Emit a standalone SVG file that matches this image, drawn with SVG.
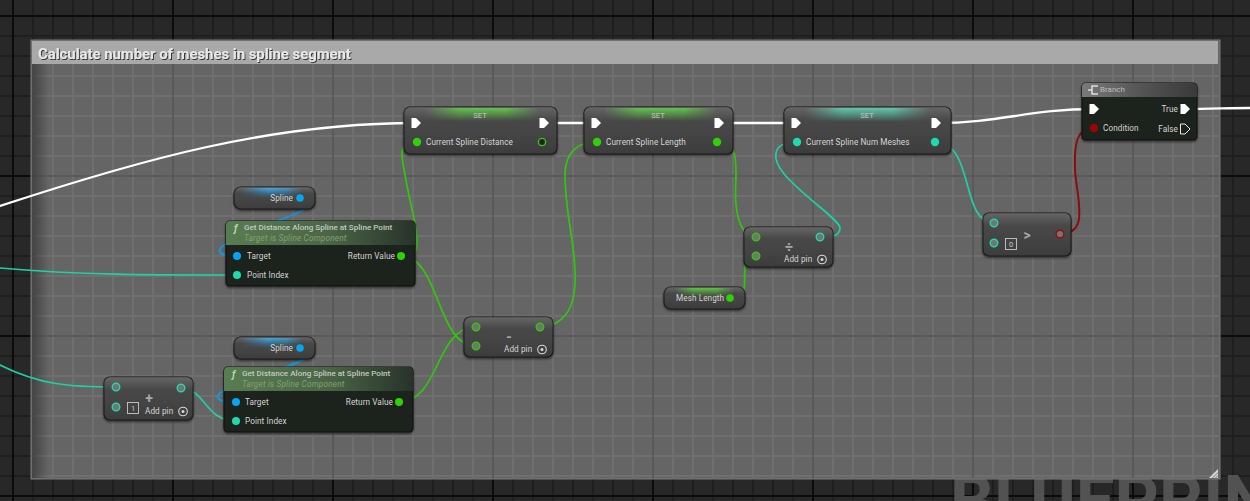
<svg xmlns="http://www.w3.org/2000/svg" width="1250" height="501" viewBox="0 0 1250 501">
<defs>
<style>
text{font-family:Roboto,"Liberation Sans",sans-serif;fill:#d8d8d8}
.lbl{font-size:8.2px;letter-spacing:.08px;fill:#d4d4d4}
.end{text-anchor:end}.mid{text-anchor:middle}
.sub{font-size:8.2px;font-style:italic;fill:#85a070;letter-spacing:.2px}
.ttl{font-size:8.1px;font-weight:500;fill:#c4c8c0;letter-spacing:0}
.set{font-size:7.5px;fill:#b8b8b8;text-anchor:middle;font-weight:500}
.op{font-size:14px;font-weight:700;fill:#a8a8a8;text-anchor:middle}
.w{fill:none;stroke-linecap:round}
.ex{stroke:#fff;stroke-width:2.3}
.gr{stroke:#2fc80c;stroke-width:1.7}
.te{stroke:#1fd0a4;stroke-width:1.7}
.bl{stroke:#0a9be8;stroke-width:1.7}
.rd{stroke:#8c0a0a;stroke-width:1.9}
.n{fill:#414141;stroke:#1c1c1c;stroke-width:1.2;filter:url(#sh)}
.f{fill:#1d211e;stroke:#101210;stroke-width:1.2;filter:url(#sh)}
.gloss{fill:url(#gl)}
.pg{fill:#2fd00a}.pt{fill:#1fd8ac}.pb{fill:#06a4f4}.pr{fill:#9c0505}
.hg{fill:#747474;stroke:#2fc80c;stroke-width:1.4}
.ht{fill:#747474;stroke:#1fd8ac;stroke-width:1.4}
.hr{fill:#747474;stroke:#a00a0a;stroke-width:1.4}
.xp{fill:#fff}
.xh{fill:none;stroke:#e8e8e8;stroke-width:1}
.box{fill:none;stroke:#c8c8c8;stroke-width:.9}
.num{font-size:7.5px;fill:#c8c8c8;text-anchor:middle}
.add{fill:none;stroke:#d8d8d8;stroke-width:1.1}
.dot{fill:#d8d8d8}
</style>
<pattern id="minorOut" width="20" height="20" x="12" y="15" patternUnits="userSpaceOnUse"><path d="M1 0V20M0 1H20" stroke="#1f1f1f" stroke-width="2" fill="none"/></pattern>
<pattern id="majorOut" width="160" height="160" x="11" y="14" patternUnits="userSpaceOnUse"><path d="M2 0V160M0 2H160" stroke="#0b0b0b" stroke-width="2" fill="none"/></pattern>
<pattern id="minorIn" width="20" height="20" x="12" y="15" patternUnits="userSpaceOnUse"><path d="M1 0V20M0 1H20" stroke="#6f6f6f" stroke-width="2" fill="none"/></pattern>
<pattern id="majorIn" width="160" height="160" x="11" y="14" patternUnits="userSpaceOnUse"><path d="M2 0V160M0 2H160" stroke="#545454" stroke-width="1.6" fill="none"/></pattern>
<linearGradient id="edge" x1="0" x2="1" y1="0" y2="0"><stop offset="0" stop-color="#333" stop-opacity=".7"/><stop offset=".014" stop-color="#333" stop-opacity="0"/></linearGradient>
<linearGradient id="gl" x1="0" x2="0" y1="0" y2="1"><stop offset="0" stop-color="#fff" stop-opacity=".2"/><stop offset=".3" stop-color="#fff" stop-opacity=".04"/><stop offset="1" stop-color="#000" stop-opacity=".06"/></linearGradient>
<linearGradient id="hgr"><stop offset="0" stop-color="#42d01e" stop-opacity="0"/><stop offset=".3" stop-color="#42d01e" stop-opacity=".8"/><stop offset=".7" stop-color="#42d01e" stop-opacity=".8"/><stop offset="1" stop-color="#42d01e" stop-opacity="0"/></linearGradient>
<linearGradient id="hte"><stop offset="0" stop-color="#3ed8b0" stop-opacity="0"/><stop offset=".3" stop-color="#3ed8b0" stop-opacity=".8"/><stop offset=".7" stop-color="#3ed8b0" stop-opacity=".8"/><stop offset="1" stop-color="#3ed8b0" stop-opacity="0"/></linearGradient>
<linearGradient id="hbl"><stop offset="0" stop-color="#1a9ee8" stop-opacity="0"/><stop offset=".45" stop-color="#1a9ee8" stop-opacity=".9"/><stop offset=".75" stop-color="#1a9ee8" stop-opacity=".7"/><stop offset="1" stop-color="#1a9ee8" stop-opacity="0"/></linearGradient>
<linearGradient id="vg" x1="0" x2="0" y1="0" y2="1"><stop offset="0" stop-color="#fff"/><stop offset="1" stop-color="#000"/></linearGradient>
<mask id="vf" maskUnits="objectBoundingBox" maskContentUnits="objectBoundingBox" x="0" y="0" width="1" height="1"><rect width="1" height="1" fill="url(#vg)"/></mask>
<linearGradient id="fh" x1="0" x2="1" y1="0" y2="0"><stop offset="0" stop-color="#587d52"/><stop offset=".55" stop-color="#4a6546"/><stop offset="1" stop-color="#28332a"/></linearGradient>
<linearGradient id="bh" x1="0" x2="1" y1="0" y2="0"><stop offset="0" stop-color="#7a7a7a"/><stop offset=".5" stop-color="#555"/><stop offset="1" stop-color="#3a3a3a"/></linearGradient>
<filter id="sh" x="-10%" y="-10%" width="120%" height="130%"><feDropShadow dx="0" dy="1.5" stdDeviation="1" flood-color="#000" flood-opacity=".55"/></filter>
<filter id="ts" x="-5%" y="-20%" width="110%" height="150%"><feDropShadow dx="1" dy="1" stdDeviation=".2" flood-color="#2a2a2a" flood-opacity=".9"/></filter>
<path id="ep" d="M-4.5 -5H0L5 0L0 5H-4.5Z"/>
</defs>
<g id="background">
<rect width="1250" height="501" fill="#282828"/>
<rect width="1250" height="501" fill="url(#minorOut)"/>
<rect width="1250" height="501" fill="url(#majorOut)"/>
<text x="950" y="524" font-size="69" font-weight="700" style="fill:#525252">BLUEPRINT</text>
</g>
<g id="comment">
<rect x="31" y="40" width="1189" height="439" fill="#656565" stroke="#7a7a7a" stroke-width="1"/>
<rect x="32" y="41" width="1187" height="437" fill="url(#minorIn)"/>
<rect x="32" y="41" width="1187" height="437" fill="url(#majorIn)"/>
<rect x="32" y="41" width="1187" height="437" fill="url(#edge)"/>
<rect x="32" y="41" width="1186" height="23" fill="#a9a9a9"/>
<text x="38" y="59" font-size="14.85" font-weight="700" style="fill:#e8e8e8;filter:url(#ts)">Calculate number of meshes in spline segment</text>
<path d="M1218 469V478H1209Z" fill="#d8d8d8"/>
<path d="M1212.500 478L1218 472.500M1215.500 478L1218 475.500" stroke="#555" stroke-width=".8"/>
</g>
<g id="connectors" class="w">
<path class="w ex" d="M0 206C140 160 270 123 416 123"/>
<path class="w ex" d="M544 123H596"/>
<path class="w ex" d="M719 123H796"/>
<path class="w ex" d="M936 123C1000 123 1030 109 1094 109"/>
<path class="w ex" d="M1185 109C1210 109 1230 108 1250 108"/>
<path class="w gr" d="M417 142C395 142 403 160 405 175C410 205 420 235 416 250C414 256 408 256 401 256"/>
<path class="w gr" d="M401 256C440 256 436 346 476 346"/>
<path class="w gr" d="M399 402C440 402 435 327 476 327"/>
<path class="w gr" d="M540 327C575 325 576 290 575 270C574 240 565 210 565 175C565 150 580 142 597 142"/>
<path class="w gr" d="M717 142C745 142 733 180 736 205C738 225 745 237 756 237"/>
<path class="w gr" d="M730 298C750 298 743 280 745 270C744 262 746 256 756 256"/>
<path class="w te" d="M797 142C770 142 772 160 785 175C805 198 840 220 840 228C840 237 830 237 820 237"/>
<path class="w te" d="M935 142C975 142 960 223 994 223"/>
<path class="w rd" d="M1060 234C1090 234 1077 200 1075 170C1074 140 1078 128 1094 128"/>
<path class="w bl" d="M300 198C325 198 312 208 280 220C250 232 215 245 220 252C222 256 230 256 237 256"/>
<path class="w bl" d="M300 348C325 348 312 358 278 370C248 382 213 391 218 398C220 402 228 402 236 402"/>
<path class="w te" d="M0 268C80 275 150 275 237 275"/>
<path class="w te" d="M0 365C40 385 70 387 116 387"/>
<path class="w te" d="M181 388C205 388 205 421 236 421"/>
</g>
<g id="set-distance">
<rect class="n" x="404" y="107" width="153" height="47" rx="6"/>
<rect x="425" y="108" width="115" height="13" fill="url(#hgr)" mask="url(#vf)"/>
<rect class="gloss" x="404" y="107" width="153" height="47" rx="6"/>
<text class="set" x="480" y="118">SET</text>
<use href="#ep" class="xp" x="416" y="123"/><use href="#ep" class="xp" x="544" y="123"/>
<circle class="pg" cx="417" cy="142" r="4.200"/>
<text class="lbl" x="426" y="145">Current Spline Distance</text>
<circle cx="542" cy="142" r="3.600" fill="#222" stroke="#2fc80c" stroke-width="1.400"/>
</g>
<g id="set-length">
<rect class="n" x="584" y="107" width="149" height="47" rx="6"/>
<rect x="603" y="108" width="115" height="13" fill="url(#hgr)" mask="url(#vf)"/>
<rect class="gloss" x="584" y="107" width="149" height="47" rx="6"/>
<text class="set" x="658" y="118">SET</text>
<use href="#ep" class="xp" x="596" y="123"/><use href="#ep" class="xp" x="719" y="123"/>
<circle class="pg" cx="597" cy="142" r="4.200"/>
<text class="lbl" x="606" y="145">Current Spline Length</text>
<circle class="pg" cx="717" cy="142" r="4.200"/>
</g>
<g id="set-num-meshes">
<rect class="n" x="784" y="107" width="167" height="47" rx="6"/>
<rect x="805" y="108" width="125" height="14" fill="url(#hte)" mask="url(#vf)"/>
<rect class="gloss" x="784" y="107" width="167" height="47" rx="6"/>
<text class="set" x="867" y="118">SET</text>
<use href="#ep" class="xp" x="796" y="123"/><use href="#ep" class="xp" x="936" y="123"/>
<circle class="pt" cx="797" cy="142" r="4.200"/>
<text class="lbl" x="806" y="145">Current Spline Num Meshes</text>
<circle class="pt" cx="935" cy="142" r="4.200"/>
</g>
<g id="branch">
<rect class="f" x="1082" y="83" width="115" height="57" rx="4"/>
<path d="M1086 83H1193Q1197 83 1197 87V97H1082V87Q1082 83 1086 83Z" fill="url(#bh)"/>
<path d="M1098 86H1092V94H1098M1092 90H1088" fill="none" stroke="#ddd" stroke-width="1.500"/>
<text x="1100" y="92" font-size="8" style="fill:#bdbdbd">Branch</text>
<use href="#ep" class="xp" x="1094" y="109"/>
<text class="lbl end" x="1178" y="112">True</text>
<use href="#ep" class="xp" x="1185" y="109"/>
<circle class="pr" cx="1094" cy="128" r="4.200"/>
<text class="lbl" x="1103" y="131">Condition</text>
<text class="lbl end" x="1178" y="132">False</text>
<use href="#ep" class="xh" x="1185" y="129"/>
</g>
<g id="greater">
<rect class="n" x="983" y="213" width="88" height="43" rx="6"/>
<rect class="gloss" x="983" y="213" width="88" height="43" rx="6"/>
<circle class="ht" cx="994" cy="223" r="3.800"/>
<circle class="ht" cx="994" cy="243" r="3.800"/>
<rect class="box" x="1005.500" y="238.500" width="11" height="11"/>
<text class="num" x="1011" y="247">0</text>
<text class="op" x="1027" y="240">&gt;</text>
<circle class="hr" cx="1060" cy="234" r="3.800"/>
</g>
<g id="divide">
<rect class="n" x="744" y="227" width="89" height="40" rx="6"/>
<rect class="gloss" x="744" y="227" width="89" height="40" rx="6"/>
<circle class="hg" cx="756" cy="237" r="3.800"/>
<circle class="hg" cx="756" cy="256" r="3.800"/>
<circle class="ht" cx="820" cy="237" r="3.800"/>
<text class="op" x="789" y="252">÷</text>
<text class="lbl" x="784" y="262">Add pin</text>
<circle class="add" cx="822" cy="259.500" r="4.300"/><circle class="dot" cx="822" cy="259.500" r="1.500"/>
</g>
<g id="mesh-length">
<rect class="n" x="664" y="287" width="81" height="22" rx="7"/>
<rect x="675" y="288" width="60" height="9" fill="url(#hgr)" mask="url(#vf)"/>
<rect class="gloss" x="664" y="287" width="81" height="22" rx="7"/>
<text class="lbl" x="676" y="301">Mesh Length</text>
<circle class="pg" cx="730" cy="298" r="3.800"/>
</g>
<g id="subtract">
<rect class="n" x="464" y="317" width="89" height="40" rx="6"/>
<rect class="gloss" x="464" y="317" width="89" height="40" rx="6"/>
<circle class="hg" cx="476" cy="327" r="3.800"/>
<circle class="hg" cx="476" cy="346" r="3.800"/>
<circle class="hg" cx="540" cy="327" r="3.800"/>
<text class="op" x="509" y="342">-</text>
<text class="lbl" x="504" y="352">Add pin</text>
<circle class="add" cx="542" cy="349.500" r="4.300"/><circle class="dot" cx="542" cy="349.500" r="1.500"/>
</g>
<g id="add">
<rect class="n" x="104" y="377" width="89" height="43" rx="6"/>
<rect class="gloss" x="104" y="377" width="89" height="43" rx="6"/>
<circle class="ht" cx="116" cy="387" r="3.800"/>
<circle class="ht" cx="116" cy="407" r="3.800"/>
<circle class="ht" cx="181" cy="388" r="3.800"/>
<rect class="box" x="127.500" y="402.500" width="11" height="11"/>
<text class="num" x="133" y="411">1</text>
<text class="op" x="149" y="403">+</text>
<text class="lbl" x="145" y="414">Add pin</text>
<circle class="add" cx="183" cy="411.500" r="4.300"/><circle class="dot" cx="183" cy="411.500" r="1.500"/>
</g>
<g id="spline-1">
<rect class="n" x="234" y="187" width="81" height="22" rx="7"/>
<rect x="240" y="188" width="62" height="10" fill="url(#hbl)" mask="url(#vf)"/>
<rect class="gloss" x="234" y="187" width="81" height="22" rx="7"/>
<text class="lbl end" x="293" y="201">Spline</text>
<circle class="pb" cx="300" cy="198" r="3.800"/>
</g>
<g id="spline-2">
<rect class="n" x="234" y="337" width="81" height="22" rx="7"/>
<rect x="240" y="338" width="62" height="10" fill="url(#hbl)" mask="url(#vf)"/>
<rect class="gloss" x="234" y="337" width="81" height="22" rx="7"/>
<text class="lbl end" x="293" y="351">Spline</text>
<circle class="pb" cx="300" cy="348" r="3.800"/>
</g>
<g id="get-distance-1">
<rect class="f" x="226" y="221" width="189" height="65" rx="4"/>
<path d="M230 221H411Q415 221 415 225V245H226V225Q226 221 230 221Z" fill="url(#fh)"/>
<text x="234" y="232" font-size="10" font-style="italic" font-weight="700" style="fill:#b6d8a8">ƒ</text>
<text class="ttl" x="244" y="230">Get Distance Along Spline at Spline Point</text>
<text class="sub" x="244" y="241">Target is Spline Component</text>
<circle class="pb" cx="237" cy="256" r="4"/>
<text class="lbl" x="247" y="259">Target</text>
<circle class="pt" cx="237" cy="275" r="4"/>
<text class="lbl" x="247" y="278">Point Index</text>
<text class="lbl end" x="395" y="259">Return Value</text>
<circle class="pg" cx="401" cy="256" r="4"/>
</g>
<g id="get-distance-2">
<rect class="f" x="224" y="367" width="189" height="65" rx="4"/>
<path d="M228 367H409Q413 367 413 371V391H224V371Q224 367 228 367Z" fill="url(#fh)"/>
<text x="232" y="378" font-size="10" font-style="italic" font-weight="700" style="fill:#b6d8a8">ƒ</text>
<text class="ttl" x="242" y="376">Get Distance Along Spline at Spline Point</text>
<text class="sub" x="242" y="387">Target is Spline Component</text>
<circle class="pb" cx="236" cy="402" r="4"/>
<text class="lbl" x="245" y="405">Target</text>
<circle class="pt" cx="236" cy="421" r="4"/>
<text class="lbl" x="245" y="424">Point Index</text>
<text class="lbl end" x="393" y="405">Return Value</text>
<circle class="pg" cx="399" cy="402" r="4"/>
</g>
</svg>
